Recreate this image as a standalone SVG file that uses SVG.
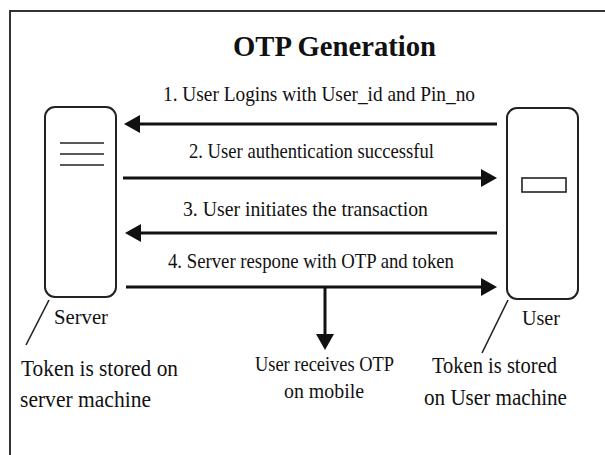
<svg xmlns="http://www.w3.org/2000/svg" width="605" height="455" viewBox="0 0 605 455" font-family="'Liberation Serif', 'DejaVu Serif', serif">
<defs>
<marker id="ah" markerUnits="userSpaceOnUse" markerWidth="16" markerHeight="18" refX="6" refY="9" orient="auto" viewBox="0 0 16 18">
<path d="M0,0 L16,9 L0,18 z" fill="#111"/>
</marker>
</defs>
<style>
text{font-family:'Liberation Serif', 'DejaVu Serif', serif;fill:#111}
.t{font-size:21px}
.n{font-size:23px}
.s{font-size:21px}
.box{fill:#fff;stroke:#222;stroke-width:2}
.thin{stroke:#222;stroke-width:1.6;fill:none}
.conn line{stroke:#111;stroke-width:3;marker-end:url(#ah)}
</style>
<rect x="0" y="0" width="605" height="455" fill="#fff"/>
<rect x="10" y="11" width="604" height="460" fill="none" stroke="#333" stroke-width="2"/>
<text x="233" y="56" font-size="29" font-weight="bold" textLength="203" lengthAdjust="spacingAndGlyphs">OTP Generation</text>

<g id="server">
<rect class="box" x="45" y="107" width="71" height="190" rx="10"/>
<line class="thin" x1="60" y1="143" x2="104" y2="143"/>
<line class="thin" x1="60" y1="154" x2="104" y2="154"/>
<line class="thin" x1="60" y1="165" x2="104" y2="165"/>
<text class="s" x="54" y="324" textLength="54" lengthAdjust="spacingAndGlyphs">Server</text>
<line class="thin" x1="49" y1="300" x2="26" y2="345"/>
<text class="n" x="21" y="376" textLength="157" lengthAdjust="spacingAndGlyphs">Token is stored on</text>
<text class="n" x="20" y="407" textLength="131" lengthAdjust="spacingAndGlyphs">server machine</text>
</g>

<g id="user">
<rect class="box" x="507" y="108" width="71" height="191" rx="10"/>
<rect x="522" y="178" width="44" height="14" fill="#fff" stroke="#222" stroke-width="1.6"/>
<text class="s" x="522" y="325" textLength="38" lengthAdjust="spacingAndGlyphs">User</text>
<line class="thin" x1="508" y1="300" x2="482" y2="353"/>
<text class="n" x="432" y="373" textLength="125" lengthAdjust="spacingAndGlyphs">Token is stored</text>
<text class="n" x="424" y="405" textLength="143" lengthAdjust="spacingAndGlyphs">on User machine</text>
</g>

<g id="mobile">
<text x="255" y="371" font-size="20" textLength="139" lengthAdjust="spacingAndGlyphs">User receives OTP</text>
<text x="284" y="398" font-size="20" textLength="80" lengthAdjust="spacingAndGlyphs">on mobile</text>
</g>

<g id="labels">
<text class="t" x="163" y="101" textLength="312" lengthAdjust="spacingAndGlyphs">1. User Logins with User_id and Pin_no</text>
<text class="t" x="189" y="158" textLength="245" lengthAdjust="spacingAndGlyphs">2. User authentication successful</text>
<text class="t" x="183" y="216" textLength="245" lengthAdjust="spacingAndGlyphs">3. User initiates the transaction</text>
<text class="t" x="168" y="268" textLength="286" lengthAdjust="spacingAndGlyphs">4. Server respone with OTP and token</text>
</g>

<g id="connectors" class="conn">
<line x1="497" y1="124" x2="134" y2="124"/>
<line x1="123" y1="178" x2="487" y2="178"/>
<line x1="497" y1="233" x2="135" y2="233"/>
<line x1="126" y1="287" x2="487" y2="287"/>
<line x1="325" y1="287" x2="325" y2="340"/>
</g>
</svg>
